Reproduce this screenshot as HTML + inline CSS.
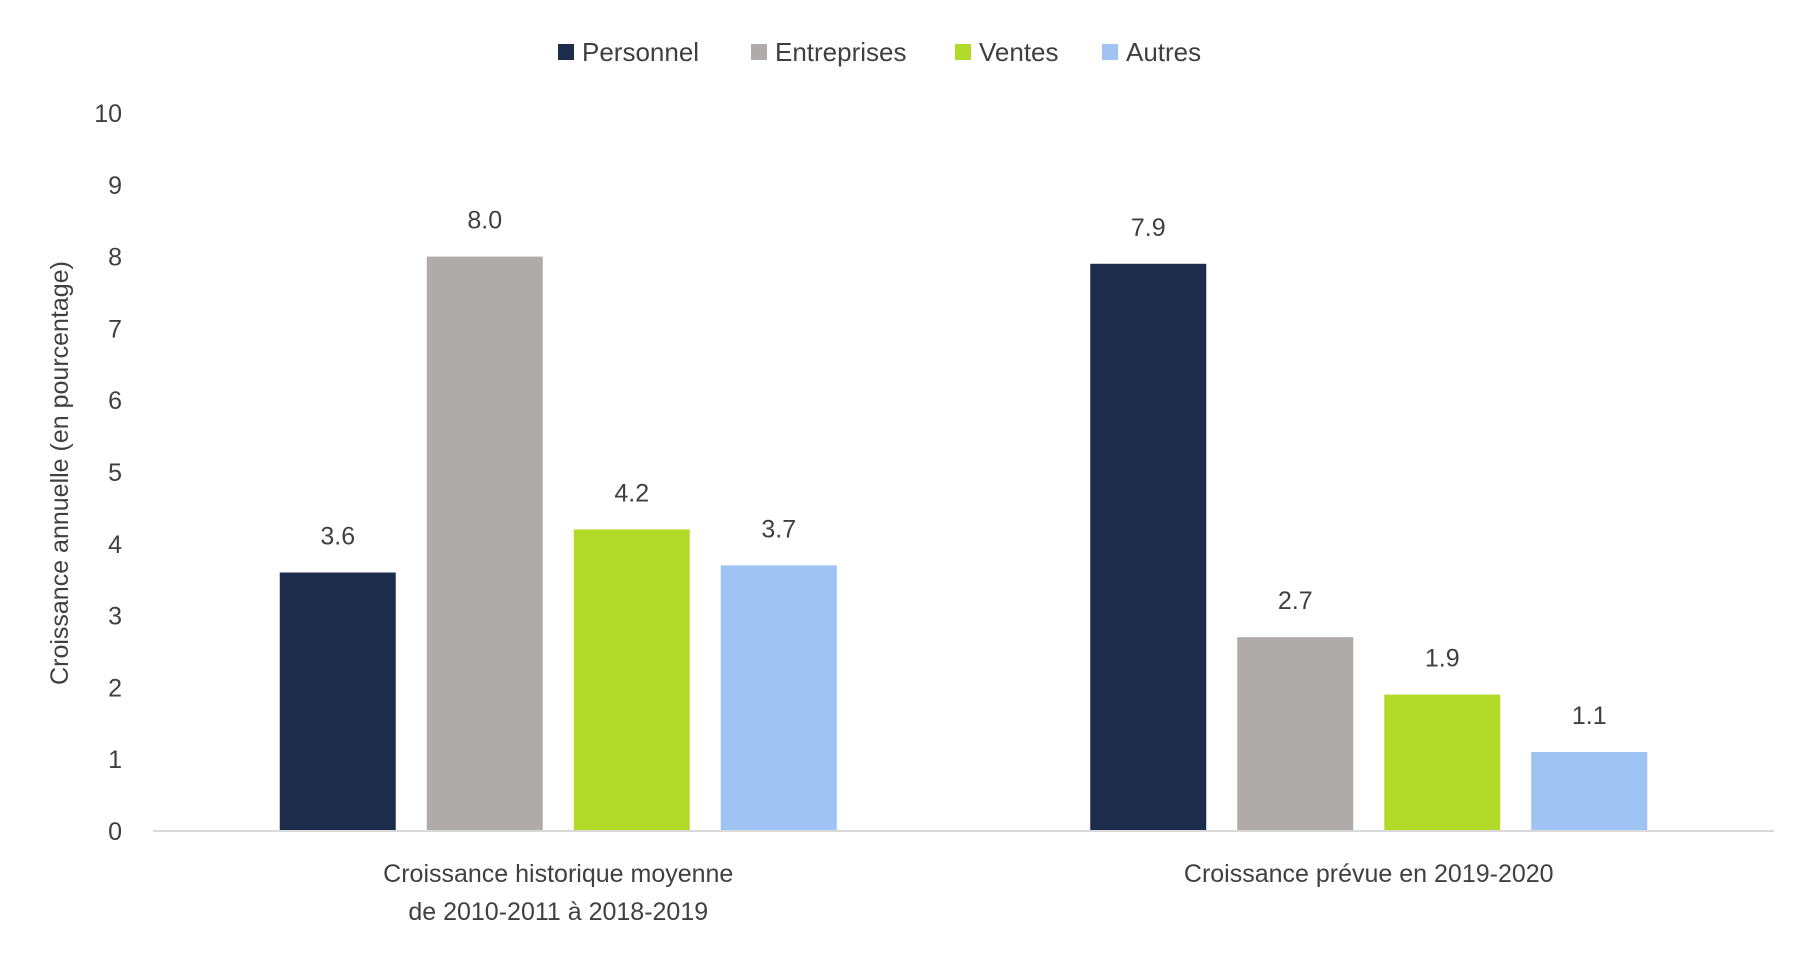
<!DOCTYPE html>
<html><head><meta charset="utf-8"><style>
html,body{margin:0;padding:0;background:#fff;}
svg text{font-family:"Liberation Sans",sans-serif;fill:#404040;}
</style></head><body>
<svg id="chart" width="1802" height="956" viewBox="0 0 1802 956" xmlns="http://www.w3.org/2000/svg">
<g id="legend"></g>
<g id="yaxis"></g>
<text transform="translate(68,473) rotate(-90)" text-anchor="middle" font-size="25">Croissance annuelle (en pourcentage)</text>
<g id="bars"></g>
<line x1="153" x2="1774" y1="831" y2="831" stroke="#d9d9d9" stroke-width="2"/>
<g id="xaxis"></g>
</svg>
<script>
const categories = [["Croissance historique moyenne","de 2010-2011 à 2018-2019"],["Croissance prévue en 2019-2020"]];
const seriesNames = ["Personnel","Entreprises","Ventes","Autres"];
const personnel = [3.6, 7.9];
const entreprises = [8.0, 2.7];
const ventes = [4.2, 1.9];
const autres = [3.7, 1.1];
const yTicks = [0,1,2,3,4,5,6,7,8,9,10];

const series=[personnel,entreprises,ventes,autres];
const colors=["#1d2c4b","#afabaa","#b3d929","#9fc3f3"];
const NS="http://www.w3.org/2000/svg";
const x0=153,x1=1774,y0=831,yTop=113,yMax=10;
const y=v=>y0-(v/yMax)*(y0-yTop);
const bandW=(x1-x0)/categories.length;
const cx=i=>x0+bandW*(i+0.5);
const barW=116,gap=31;
function mk(tag,attrs,parent){const e=document.createElementNS(NS,tag);for(const k in attrs)e.setAttribute(k,attrs[k]);parent.appendChild(e);return e;}
const ya=document.getElementById('yaxis');
yTicks.forEach(t=>{const e=mk('text',{x:122,y:y(t)+9,'text-anchor':'end','font-size':25},ya);


e.textContent=t;});
const bg=document.getElementById('bars');
const groupW=series.length*barW+(series.length-1)*gap;
categories.forEach((c,i)=>{
 series.forEach((s,j)=>{
  const bx=cx(i)-groupW/2+j*(barW+gap);
  const r=mk('rect',{x:bx,y:y(s[i]),width:barW,height:y0-y(s[i]),fill:colors[j]},bg);
  
  
  const t=mk('text',{x:bx+barW/2,y:y(s[i])-28,'text-anchor':'middle','font-size':25},bg);
  
  
  t.textContent=s[i].toFixed(1);
 });
 const xa=document.getElementById('xaxis');
 c.forEach((line,k)=>{const t=mk('text',{x:cx(i),y:882+k*38,'text-anchor':'middle','font-size':25},xa);
 
 
 t.textContent=line;});
});
const lg=document.getElementById('legend');
const lx=[558,751,955,1102];
seriesNames.forEach((n,j)=>{
 const r=mk('rect',{x:lx[j],y:44,width:16,height:16,fill:colors[j]},lg);
 
 
 const t=mk('text',{x:lx[j]+24,y:61,'font-size':26},lg);
 
 
 t.textContent=n;
});
</script>
</body></html>
